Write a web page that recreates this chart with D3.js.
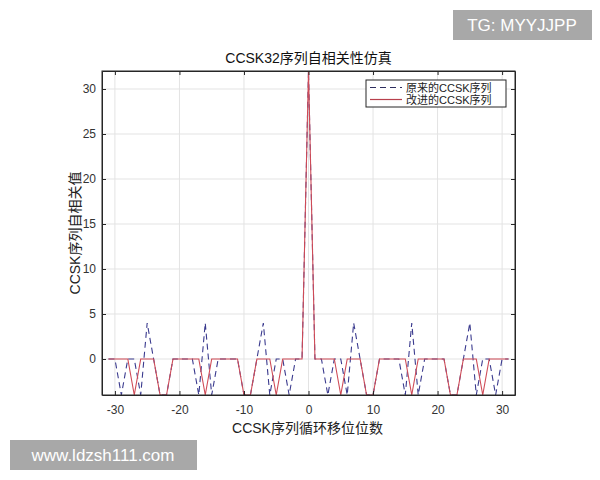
<!DOCTYPE html>
<html>
<head>
<meta charset="utf-8">
<script src="https://cdn.jsdelivr.net/npm/d3@7"></script>
<style>
  body { margin: 0; background: #fff; }
  text { font-family: "Liberation Sans", Arial, "Noto Sans CJK SC", sans-serif; }
</style>
</head>
<body>
<div id="vis"></div>
<script>
// cyclic shifts shown on the x axis
var shifts = [-31,-30,-29,-28,-27,-26,-25,-24,-23,-22,-21,-20,-19,-18,-17,-16,-15,-14,-13,-12,-11,-10,-9,-8,-7,-6,-5,-4,-3,-2,-1,
  0,1,2,3,4,5,6,7,8,9,10,11,12,13,14,15,16,17,18,19,20,21,22,23,24,25,26,27,28,29,30,31];

// 原来的CCSK序列 (dashed blue)
var originalCorr = [0,0,-4,0,0,-4,4,0,-4,-4,0,0,0,0,-4,4,-4,0,0,0,0,-4,-4,0,4,-4,0,0,-4,0,0,
  32,
  0,0,-4,0,0,-4,4,0,-4,-4,0,0,0,0,-4,4,-4,0,0,0,0,-4,-4,0,4,-4,0,0,-4,0,0];

// 改进的CCSK序列 (solid red)
var improvedCorr = [0,0,0,0,-4,0,0,0,-4,-4,0,0,0,0,0,-4,0,0,0,0,0,-4,-4,0,0,0,-4,0,0,0,0,
  32,
  0,0,0,0,-4,0,0,0,-4,-4,0,0,0,0,0,-4,0,0,0,0,0,-4,-4,0,0,0,-4,0,0,0,0];

var xTicks = [-30,-20,-10,0,10,20,30];
var yTicks = [0,5,10,15,20,25,30];
var legendNames = ["原来的CCSK序列", "改进的CCSK序列"];

var width = 600, height = 480;
var margin = {top: 71, right: 85, bottom: 85, left: 102};
var w = width - margin.left - margin.right,
    h = height - margin.top - margin.bottom;

var svg = d3.select("#vis")
  .append("svg")
  .attr("width", width)
  .attr("height", height);

var x = d3.scaleLinear().domain([-32, 32]).range([0, w]);
var y = d3.scaleLinear().domain([-4, 32]).range([h, 0]);

var g = svg.append("g")
  .attr("transform", "translate(" + margin.left + "," + margin.top + ")");

////////// grid //////////
g.selectAll(".gx").data(xTicks).enter().append("line")
  .attr("x1", d => x(d)).attr("x2", d => x(d))
  .attr("y1", 0).attr("y2", h)
  .attr("stroke", "#e3e3e3").attr("stroke-width", 1);
g.selectAll(".gy").data(yTicks).enter().append("line")
  .attr("x1", 0).attr("x2", w)
  .attr("y1", d => y(d)).attr("y2", d => y(d))
  .attr("stroke", "#e3e3e3").attr("stroke-width", 1);

////////// lines //////////
var line1 = d3.line().x((d, i) => x(shifts[i])).y(d => y(d));

g.append("path")
  .datum(originalCorr)
  .attr("d", line1)
  .attr("fill", "none")
  .attr("stroke", "#3a3a8e")
  .attr("stroke-width", 1.1)
  .attr("stroke-dasharray", "6,4");

g.append("path")
  .datum(improvedCorr)
  .attr("d", line1)
  .attr("fill", "none")
  .attr("stroke", "#cf4b57")
  .attr("stroke-width", 1.1);

////////// axes //////////
var axisColor = "#262626";
var fmt = d => String(d);   // plain hyphen minus like the original
g.append("g")
  .attr("transform", "translate(0," + h + ")")
  .call(d3.axisBottom(x).tickValues(xTicks).tickFormat(fmt).tickSizeInner(-4).tickSizeOuter(0).tickPadding(10));
g.append("g")
  .call(d3.axisLeft(y).tickValues(yTicks).tickFormat(fmt).tickSizeInner(-4).tickSizeOuter(0).tickPadding(6));
// ticks on top / right as in matlab box
g.append("g")
  .call(d3.axisTop(x).tickValues(xTicks).tickSizeInner(-4).tickSizeOuter(0).tickFormat(""));
g.append("g")
  .attr("transform", "translate(" + w + ",0)")
  .call(d3.axisRight(y).tickValues(yTicks).tickSizeInner(-4).tickSizeOuter(0).tickFormat(""));

g.selectAll(".domain").attr("stroke", axisColor);
g.selectAll(".tick line").attr("stroke", axisColor);
g.selectAll(".tick text")
  .attr("fill", "#333")
  .style("font-size", "12px")
  .style("font-family", "'Liberation Sans', Arial, sans-serif");

// box
g.append("rect")
  .attr("x", 0).attr("y", 0).attr("width", w).attr("height", h)
  .attr("fill", "none").attr("stroke", axisColor).attr("stroke-width", 1);

////////// labels //////////
svg.append("text")
  .attr("x", margin.left + w / 2)
  .attr("y", 63)
  .attr("text-anchor", "middle")
  .style("font-size", "14px")
  .attr("fill", "#111")
  .text("CCSK32序列自相关性仿真");

svg.append("text")
  .attr("x", margin.left + w / 2 - 1)
  .attr("y", 433)
  .attr("text-anchor", "middle")
  .style("font-size", "14px")
  .attr("fill", "#222")
  .text("CCSK序列循环移位位数");

svg.append("text")
  .attr("transform", "translate(80," + (margin.top + h / 2) + ") rotate(-90)")
  .attr("text-anchor", "middle")
  .style("font-size", "14px")
  .attr("fill", "#222")
  .text("CCSK序列自相关值");

////////// legend //////////
var legend = svg.append("g").attr("transform", "translate(366,80)");
legend.append("rect")
  .attr("width", 140).attr("height", 27)
  .attr("fill", "#fff").attr("stroke", axisColor).attr("stroke-width", 1);
var legendStyles = [{c: "#2e2e5e", dash: "6,4"}, {c: "#b8404c", dash: null}];
legendNames.forEach(function(name, i) {
  var yy = 7.5 + i * 12;
  legend.append("line")
    .attr("x1", 4).attr("x2", 36).attr("y1", yy).attr("y2", yy)
    .attr("stroke", legendStyles[i].c).attr("stroke-width", 1.2)
    .attr("stroke-dasharray", legendStyles[i].dash);
  legend.append("text")
    .attr("x", 40).attr("y", yy + 4)
    .style("font-size", "11px")
    .attr("fill", "#222")
    .text(name);
});

////////// watermarks //////////
svg.append("rect").attr("x", 453).attr("y", 10).attr("width", 139).attr("height", 30).attr("fill", "#a8a8a8");
svg.append("text").attr("x", 522).attr("y", 31).attr("text-anchor", "middle")
  .style("font-size", "17px").attr("fill", "#fff").text("TG: MYYJJPP");

svg.append("rect").attr("x", 10).attr("y", 440).attr("width", 187).attr("height", 30).attr("fill", "#a8a8a8");
svg.append("text").attr("x", 103).attr("y", 461).attr("text-anchor", "middle")
  .style("font-size", "17px").attr("fill", "#fff").text("www.ldzsh111.com");
</script>
</body>
</html>
